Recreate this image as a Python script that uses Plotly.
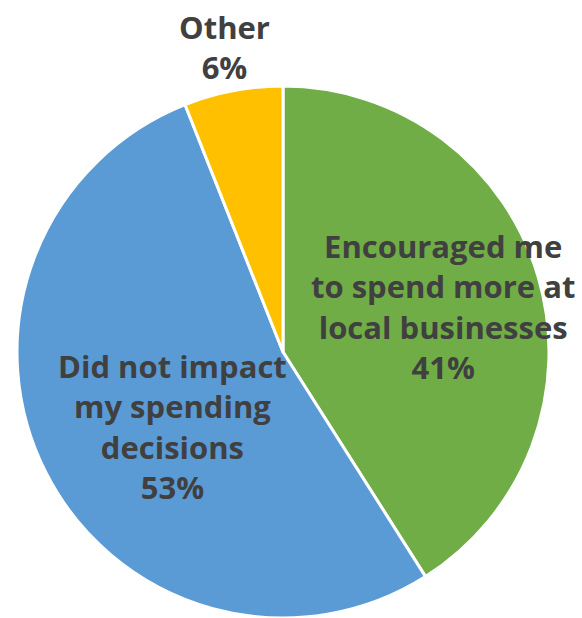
import plotly.graph_objects as go

# Survey responses
labels = ["Encouraged me<br>to spend more at<br>local businesses",
          "Did not impact<br>my spending<br>decisions",
          "Other"]
values = [41, 53, 6]
colors = ["#70AD47", "#5B9BD5", "#FFC000"]

# label anchor points (paper coords) for each slice's text block
label_x = [443 / 582, 172 / 582, 224 / 582]
label_y = [1 - 307 / 618, 1 - 426 / 618, 1 - 47 / 618]

W, H = 582, 618

fig = go.Figure(go.Pie(
    labels=labels,
    values=values,
    marker=dict(colors=colors, line=dict(color="white", width=3)),
    sort=False,
    direction="clockwise",
    rotation=0,
    textinfo="none",
    hoverinfo="label+percent",
    showlegend=False,
    domain=dict(x=[15 / W, 551 / W], y=[0, 1 - 86 / H]),
))

total = sum(values)
for lab, v, x, y in zip(labels, values, label_x, label_y):
    pct = round(100 * v / total)
    fig.add_annotation(
        x=x, y=y, xref="paper", yref="paper",
        text=f"{lab}<br>{pct}%",
        showarrow=False,
        font=dict(family="Open Sans, sans-serif", size=31, color="#404040", weight="bold"),
        align="center",
        xanchor="center", yanchor="middle",
    )

fig.update_layout(
    width=W, height=H,
    margin=dict(l=0, r=0, t=0, b=0),
    paper_bgcolor="white",
    plot_bgcolor="white",
)

fig.write_html("out.html")
